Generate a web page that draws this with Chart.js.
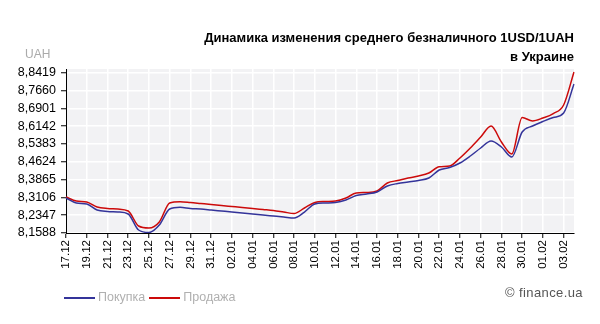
<!DOCTYPE html>
<html lang="ru">
<head>
<meta charset="utf-8">
<title>USD/UAH</title>
<script src="https://cdn.jsdelivr.net/npm/chart.js@4"></script>
<style>
  body { margin: 0; background: #fff; }
  #wrap {
    position: relative; width: 600px; height: 324px;
    font-family: "Liberation Sans", Arial, sans-serif;
  }
  #rateChart { position: absolute; left: 0; top: 0; }
  .title {
    position: absolute; right: 26px; top: 28px;
    text-align: right; font-weight: bold; font-size: 13px; line-height: 19px; color: #000;
  }
  .unit { position: absolute; left: 25px; top: 47px; font-size: 12px; color: #aaa; }
  .legend { position: absolute; left: 64px; top: 290px; font-size: 12.5px; color: #b0b0b0; white-space: nowrap; }
  .legend span.line { display: inline-block; width: 31px; height: 2px; vertical-align: middle; margin-right: 3px; }
  .legend span.item { margin-right: 4px; }
  .credit { position: absolute; right: 17px; top: 285px; font-size: 13px; letter-spacing: 0.4px; color: #555; }
</style>
</head>
<body>
<div id="wrap">
  <canvas id="rateChart" width="600" height="324"></canvas>
  <div class="title">Динамика изменения среднего безналичного 1USD/1UAH<br>в Украине</div>
  <div class="unit">UAH</div>
  <div class="legend" id="legend"></div>
  <div class="credit">© finance.ua</div>
</div>
<script>
// дни периода (17.12 – 04.02)
const dates = [
  "17.12", "18.12", "19.12", "20.12", "21.12", "22.12", "23.12", "24.12", "25.12", "26.12",
  "27.12", "28.12", "29.12", "30.12", "31.12", "01.01", "02.01", "03.01", "04.01", "05.01",
  "06.01", "07.01", "08.01", "09.01", "10.01", "11.01", "12.01", "13.01", "14.01", "15.01",
  "16.01", "17.01", "18.01", "19.01", "20.01", "21.01", "22.01", "23.01", "24.01", "25.01",
  "26.01", "27.01", "28.01", "29.01", "30.01", "31.01", "01.02", "02.02", "03.02", "04.02"
];

// средний курс покупки
const buyRates = [
  8.3080, 8.2867, 8.2825, 8.2569, 8.2505, 8.2483, 8.2398, 8.1716, 8.1609, 8.1929,
  8.2611, 8.2684, 8.2633, 8.2611, 8.2569, 8.2526, 8.2483, 8.2441, 8.2398, 8.2356,
  8.2313, 8.2270, 8.2228, 8.2483, 8.2825, 8.2867, 8.2889, 8.2995, 8.3187, 8.3251,
  8.3336, 8.3592, 8.3699, 8.3763, 8.3827, 8.3933, 8.4274, 8.4381, 8.4573, 8.4871,
  8.5212, 8.5511, 8.5255, 8.4829, 8.5895, 8.6150, 8.6342, 8.6513, 8.6705, 8.7941
];

// средний курс продажи
const sellRates = [
  8.3123, 8.2952, 8.2910, 8.2697, 8.2633, 8.2611, 8.2526, 8.1886, 8.1801, 8.2057,
  8.2867, 8.2923, 8.2889, 8.2846, 8.2803, 8.2761, 8.2718, 8.2675, 8.2633, 8.2590,
  8.2547, 8.2483, 8.2419, 8.2654, 8.2889, 8.2931, 8.2952, 8.3080, 8.3294, 8.3315,
  8.3379, 8.3720, 8.3827, 8.3933, 8.4018, 8.4146, 8.4415, 8.4445, 8.4786, 8.5212,
  8.5681, 8.6150, 8.5468, 8.4957, 8.6513, 8.6364, 8.6492, 8.6683, 8.7046, 8.8453
];

// деления шкалы курса
const yTicks = [8.1588, 8.2347, 8.3106, 8.3865, 8.4624, 8.5383, 8.6142, 8.6901, 8.7660, 8.8419];

const seriesNames = ["Покупка", "Продажа"];
const seriesColors = ["#34349a", "#cc0a0a"];

// серый фон области графика
const plotBackground = {
  id: "plotBackground",
  beforeDraw(chart) {
    const { ctx, chartArea: a } = chart;
    ctx.save();
    ctx.fillStyle = "#f2f2f4";
    ctx.fillRect(a.left, a.top, a.right - a.left, a.bottom - a.top);
    ctx.restore();
  }
};

const ctx = document.getElementById("rateChart").getContext("2d");
new Chart(ctx, {
  type: "line",
  data: {
    labels: dates,
    datasets: [buyRates, sellRates].map((data, i) => ({
      label: seriesNames[i],
      data: data,
      borderColor: seriesColors[i],
      backgroundColor: seriesColors[i],
      borderWidth: 1.5,
      pointRadius: 0,
      cubicInterpolationMode: "monotone",
      fill: false
    }))
  },
  options: {
    responsive: false,
    animation: false,
    devicePixelRatio: 1,
    layout: { padding: { top: 69, right: 26, bottom: 0, left: 0 } },
    plugins: {
      legend: { display: false },
      title: { display: false },
      tooltip: { enabled: false }
    },
    scales: {
      x: {
        offset: false,
        afterFit: s => { s.height = 91; },
        border: { color: "#000", width: 1 },
        grid: { color: "#ffffff", lineWidth: 1.5, tickColor: "#000", tickLength: 5, tickWidth: 1 },
        ticks: {
          autoSkip: false, maxRotation: 90, minRotation: 90, padding: 2,
          color: "#000", font: { family: "'Liberation Sans', Arial", size: 11.5 },
          callback: (v, i) => (i % 2 === 0 ? dates[i] : null)
        }
      },
      y: {
        min: 8.1588,
        max: 8.8581,
        afterFit: s => { s.width = 66; },
        afterBuildTicks: s => { s.ticks = yTicks.map(v => ({ value: v })); },
        border: { color: "#000", width: 1 },
        grid: { color: "#ffffff", lineWidth: 1.5, tickColor: "#000", tickLength: 5, tickWidth: 1 },
        ticks: {
          padding: 5, color: "#000", font: { family: "'Liberation Sans', Arial", size: 12.5 },
          callback: v => v.toFixed(4).replace(".", ",")
        }
      }
    }
  },
  plugins: [plotBackground]
});

// легенда под графиком
const legend = document.getElementById("legend");
legend.innerHTML = seriesNames.map((name, i) =>
  `<span class="line" style="background:${seriesColors[i]}"></span><span class="item">${name}</span>`
).join("");
</script>
</body>
</html>
